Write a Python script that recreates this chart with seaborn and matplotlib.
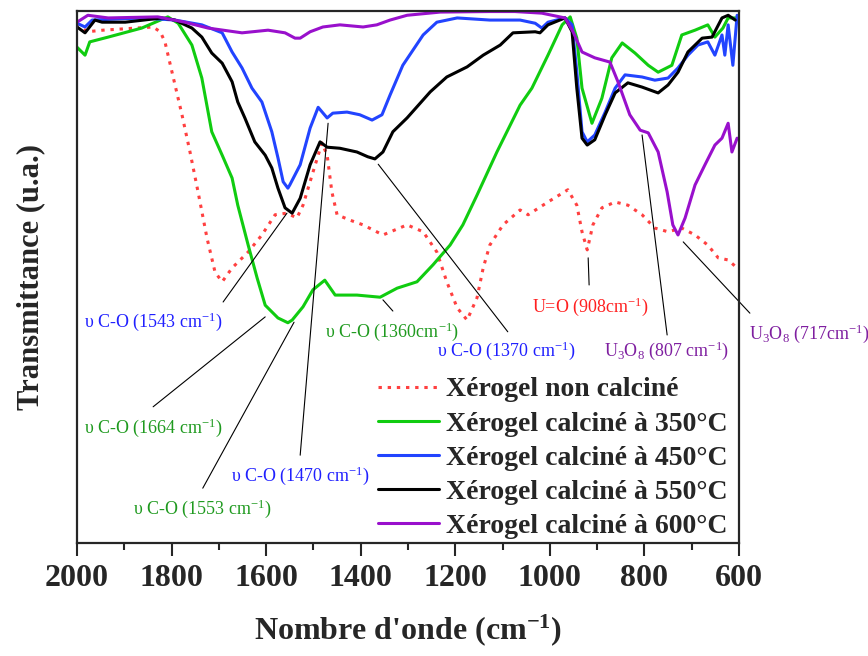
import pandas as pd
import numpy as np
import matplotlib
matplotlib.use('Agg')
import matplotlib.pyplot as plt
from matplotlib.ticker import MultipleLocator
import seaborn as sns

sns.set_style('ticks')
plt.rcParams['font.family'] = ['Liberation Serif', 'DejaVu Serif']
plt.rcParams['mathtext.fontset'] = 'custom'
plt.rcParams['mathtext.rm'] = 'Liberation Serif'
plt.rcParams['mathtext.it'] = 'Liberation Serif:italic'
plt.rcParams['mathtext.bf'] = 'Liberation Serif:bold'

# spectra (wavenumber cm-1, transmittance a.u.)
wn_nc = [2000, 1979, 1945, 1839, 1824, 1814, 1799, 1778, 1761, 1744, 1725, 1708, 1693, 1672, 1638,
         1609, 1581, 1556, 1535, 1522, 1501, 1482, 1471, 1461, 1450, 1423, 1395, 1353, 1302, 1268,
         1239, 1218, 1196, 1175, 1154, 1141, 1127, 1099, 1063, 1046, 1004, 962, 943, 932, 921, 909,
         890, 862, 835, 805, 778, 750, 721, 693, 666, 644, 623, 604]
t_nc = [97.7, 96.1, 96.4, 97.0, 96.1, 94.2, 88.5, 80.5, 73.5, 66.0, 57.3, 50.9, 49.1, 51.7, 54.7,
        57.9, 61.7, 62.0, 61.1, 63.5, 69.7, 75.2, 72.9, 66.0, 61.7, 60.7, 59.8, 57.9, 59.8, 58.5,
        54.7, 49.1, 44.2, 41.9, 46.1, 51.7, 56.0, 59.8, 62.6, 61.7, 64.1, 66.4, 63.5, 58.5, 55.1, 59.8,
        63.0, 64.1, 63.5, 61.7, 59.2, 58.5, 59.2, 57.9, 56.0, 53.6, 53.2, 51.7]

wn_350 = [2000, 1983, 1973, 1934, 1863, 1808, 1786, 1757, 1736, 1715, 1693, 1672, 1660, 1638, 1619,
          1602, 1575, 1554, 1545, 1522, 1501, 1476, 1454, 1408, 1359, 1323, 1281, 1247, 1211, 1184,
          1154, 1112, 1063, 1038, 1004, 974, 957, 943, 932, 911, 890, 869, 847, 820, 792, 771, 742,
          721, 693, 666, 651, 634, 623, 604]
t_350 = [93.2, 91.7, 94.2, 95.1, 96.8, 98.9, 97.7, 93.6, 87.4, 77.3, 72.9, 68.6, 63.5, 56.0, 49.8,
         44.7, 42.3, 41.4, 41.9, 44.4, 47.6, 49.4, 46.6, 46.6, 46.2, 47.9, 49.1, 52.3, 56.0, 59.8,
         65.4, 73.5, 82.3, 85.5, 91.7, 97.4, 98.9, 94.9, 85.5, 78.9, 83.6, 91.2, 94.0, 92.1, 89.8, 88.5, 89.8,
         95.5, 96.4, 97.4, 95.1, 96.8, 98.7, 98.7]

wn_450 = [2000, 1983, 1968, 1863, 1793, 1736, 1693, 1672, 1651, 1630, 1609, 1588, 1575, 1564, 1554,
          1550, 1528, 1507, 1490, 1471, 1459, 1429, 1402, 1376, 1355, 1338, 1311, 1268, 1239, 1196,
          1127, 1063, 1031, 1017, 1004, 968, 953, 943, 932, 921, 905, 883, 862, 841, 805, 778, 750,
          729, 708, 687, 666, 651, 636, 630, 623, 613, 604]
t_450 = [97.7, 97.0, 98.3, 98.7, 98.3, 97.4, 95.9, 92.3, 89.3, 85.5, 82.9, 77.3, 72.4, 67.9, 66.7,
         67.3, 71.1, 78.0, 81.9, 79.9, 80.8, 81.0, 80.5, 79.5, 80.5, 84.2, 89.8, 95.5, 97.9, 98.7,
         98.3, 98.3, 97.7, 96.8, 97.9, 98.7, 97.4, 88.5, 77.3, 75.4, 76.7, 81.0, 85.5, 88.0, 87.6, 87.0, 87.4,
         89.3, 91.7, 93.6, 94.2, 91.7, 95.5, 91.7, 97.4, 89.8, 99.2]

wn_550 = [2000, 1983, 1962, 1947, 1898, 1820, 1793, 1757, 1736, 1715, 1693, 1672, 1660, 1645, 1624,
          1602, 1588, 1575, 1560, 1545, 1528, 1507, 1486, 1471, 1444, 1408, 1385, 1370, 1353, 1332,
          1302, 1253, 1218, 1175, 1141, 1105, 1078, 1031, 1021, 1004, 968, 953, 943, 932, 921, 905,
          883, 862, 835, 805, 771, 750, 729, 708, 678, 657, 636, 623, 608]
t_550 = [97.0, 95.9, 98.3, 97.9, 97.9, 98.7, 98.3, 96.8, 95.1, 92.1, 90.2, 86.7, 82.9, 79.9, 75.4,
         72.9, 70.5, 66.7, 63.0, 62.0, 64.8, 71.1, 75.4, 74.4, 74.2, 73.5, 72.6, 72.2, 73.5, 77.3,
         79.9, 84.8, 87.6, 89.5, 91.7, 93.6, 95.9, 96.1, 95.9, 97.4, 98.7, 96.1, 85.5, 76.1, 74.8, 75.8,
         80.5, 84.6, 86.5, 85.7, 84.6, 86.1, 88.5, 92.3, 94.9, 95.1, 98.7, 99.2, 98.3]

wn_600 = [2000, 1977, 1934, 1829, 1772, 1723, 1651, 1596, 1560, 1539, 1528, 1507, 1480, 1444, 1395,
          1366, 1338, 1302, 1232, 1127, 1074, 1017, 968, 951, 932, 905, 873, 856, 831, 809, 792,
          771, 752, 740, 729, 714, 693, 672, 651, 636, 623, 615, 604]
t_600 = [97.9, 99.2, 98.7, 98.9, 97.9, 96.8, 95.9, 96.4, 95.9, 94.9, 94.9, 96.1, 97.0, 97.4, 97.0,
         97.4, 98.3, 99.2, 99.8, 99.9, 99.9, 99.6, 98.7, 96.1, 92.3, 91.2, 90.4, 86.7, 80.5, 77.6, 77.1,
         73.5, 66.0, 59.8, 57.9, 61.1, 67.3, 71.1, 74.8, 76.1, 78.9, 73.5, 76.1]

series = ['Xérogel non calciné', 'Xérogel calciné à 350°C', 'Xérogel calciné à 450°C',
          'Xérogel calciné à 550°C', 'Xérogel calciné à 600°C']
colors = ['#ff4040', '#10cc10', '#2244ff', '#000000', '#9910cc']

df = pd.concat([
    pd.DataFrame({'wn': w, 't': t, 'serie': s})
    for w, t, s in zip([wn_nc, wn_350, wn_450, wn_550, wn_600],
                       [t_nc, t_350, t_450, t_550, t_600], series)
])

# peak labels: text, colour, text position, line start, line end
labels = [
    ('υ C-O (1543 cm$^{-1}$)', '#2020ff', (1839, 41.5), (1691, 45.3), (1556, 62.0)),
    ('υ C-O (1664 cm$^{-1}$)', '#1f9a1f', (1839, 21.6), (1839, 25.6), (1602, 42.5)),
    ('υ C-O (1553 cm$^{-1}$)', '#1f9a1f', (1734, 6.4), (1734, 10.3), (1541, 41.5)),
    ('υ C-O (1470 cm$^{-1}$)', '#2020ff', (1528, 12.6), (1528, 16.5), (1469, 78.9)),
    ('υ C-O (1360cm$^{-1}$)', '#1f9a1f', (1334, 39.8), (1353, 45.7), (1332, 43.6)),
    ('υ C-O (1370 cm$^{-1}$)', '#2020ff', (1093, 36.1), (1363, 71.2), (1089, 39.7)),
    ('U=O (908cm$^{-1}$)', '#ff2020', (915, 44.5), (919, 53.6), (917, 48.5)),
    ('U$_3$O$_8$ (807 cm$^{-1}$)', '#7f1fa0', (754, 36.1), (805, 76.7), (752, 39.1)),
    ('U$_3$O$_8$ (717cm$^{-1}$)', '#7f1fa0', (452, 39.3), (718, 56.6), (577, 43.2)),
]

fig = plt.figure(figsize=(8.68, 6.56), dpi=100)
ax = fig.add_axes([0.0887, 0.1723, 0.7627, 0.8109])

sns.lineplot(data=df, x='wn', y='t', hue='serie', style='serie', hue_order=series,
             style_order=series, palette=colors, estimator=None, sort=False,
             dashes={series[0]: (1.1, 1.9), series[1]: '', series[2]: '',
                     series[3]: '', series[4]: ''},
             linewidth=2.2, ax=ax)

for txt, col, (tx, ty), (x0, y0), (x1, y1) in labels:
    ax.plot([x0, x1], [y0, y1], color='black', lw=0.8, clip_on=False)
    ax.text(tx, ty, txt, color=col, fontsize=13, ha='center', va='center', clip_on=False)

ax.set_xlim(2000, 600)
ax.set_ylim(0, 100)
ax.xaxis.set_major_locator(MultipleLocator(200))
ax.xaxis.set_minor_locator(MultipleLocator(100))
ax.tick_params(axis='x', which='major', direction='out', length=9, width=1.5,
               labelsize=23, pad=6)
ax.tick_params(axis='x', which='minor', direction='out', length=5, width=1.5)
ax.set_yticks([])
for lab in ax.get_xticklabels():
    lab.set_fontweight('bold')
for sp in ax.spines.values():
    sp.set_linewidth(1.6)
    sp.set_visible(True)

ax.set_xlabel("Nombre d'onde (cm$^{\\mathbf{-1}}$)", fontsize=23, fontweight='bold', labelpad=14)
ax.set_ylabel('Transmittance (u.a.)', fontsize=22, fontweight='bold', labelpad=23)

handles, _ = ax.get_legend_handles_labels()
ax.legend(handles=handles, labels=series, loc='upper left', bbox_to_anchor=(0.4355, 0.4253),
          bbox_transform=fig.transFigure, frameon=False, handlelength=2.2,
          handletextpad=0.25, labelspacing=0.31, borderpad=0, borderaxespad=0,
          prop={'family': 'Liberation Serif', 'weight': 'bold', 'size': 20})

fig.savefig('out.png', dpi=100)
